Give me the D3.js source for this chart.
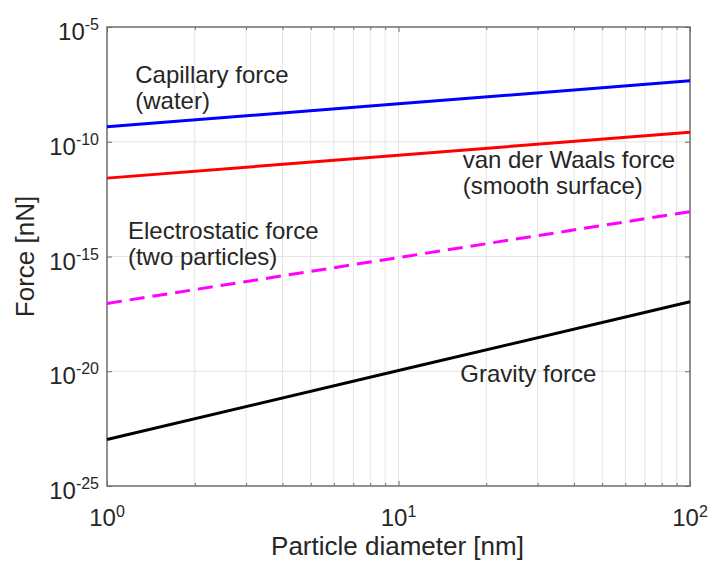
<!DOCTYPE html>
<html>
<head>
<meta charset="utf-8">
<script src="https://cdn.jsdelivr.net/npm/d3@7"></script>
<style>
  body { margin: 0; background: #fff; }
  text { font-family: "Liberation Sans", Arial, sans-serif; fill: #262626; }
</style>
</head>
<body>
<svg id="chart" width="711" height="563"></svg>
<script>
// particle diameter [nm] and forces [nN]
const diameters = [1, 10, 100];
const capillaryForce = [4.5e-10, 4.5e-9, 4.5e-8];
const vdwForce = [2.6e-12, 2.6e-11, 2.6e-10];
const electrostaticForce = [9e-18, 9e-16, 9e-14];
const gravityForce = [1.07e-23, 1.07e-20, 1.07e-17];

// axis ticks
const xTicks = [1, 10, 100];
const xTickExp = ['0', '1', '2'];
const xMinorTicks = [2, 3, 4, 5, 6, 7, 8, 9, 20, 30, 40, 50, 60, 70, 80, 90];
const yTicks = [1e-25, 1e-20, 1e-15, 1e-10, 1e-5];
const yTickExp = ['-25', '-20', '-15', '-10', '-5'];

// curve annotations (two lines each)
const capillaryLabel = ['Capillary force', '(water)'];
const vdwLabel = ['van der Waals force', '(smooth surface)'];
const electrostaticLabel = ['Electrostatic force', '(two particles)'];
const gravityLabel = ['Gravity force'];

const svg = d3.select('#chart');
const margin = { left: 107, right: 21, top: 27, bottom: 77 };
const width = 711 - margin.left - margin.right;
const height = 563 - margin.top - margin.bottom;

const x = d3.scaleLog().domain([1, 100]).range([margin.left, margin.left + width]);
const y = d3.scaleLog().domain([1e-25, 1e-5]).range([margin.top + height, margin.top]);

// grid
const grid = svg.append('g');
grid.selectAll('.vgrid')
  .data(xMinorTicks.concat(xTicks.slice(1, -1)))
  .join('line')
  .attr('x1', d => x(d)).attr('x2', d => x(d))
  .attr('y1', y(1e-25)).attr('y2', y(1e-5))
  .attr('stroke', '#e4e4e4').attr('stroke-width', 1);
grid.selectAll('.hgrid')
  .data(yTicks.slice(1, -1))
  .join('line')
  .attr('x1', x(1)).attr('x2', x(100))
  .attr('y1', d => y(d)).attr('y2', d => y(d))
  .attr('stroke', '#e4e4e4').attr('stroke-width', 1);

// axes with inward ticks
const axisColor = '#6e6e6e';
function styleAxis(g) {
  g.select('.domain').remove();
  g.selectAll('.tick line').attr('stroke', axisColor);
  g.selectAll('.tick text').remove();
}
svg.append('g').attr('transform', `translate(0,${y(1e-25)})`)
  .call(d3.axisBottom(x).tickValues(xMinorTicks).tickSize(-3)).call(styleAxis);
svg.append('g').attr('transform', `translate(0,${y(1e-25)})`)
  .call(d3.axisBottom(x).tickValues(xTicks).tickSize(-5)).call(styleAxis);
svg.append('g').attr('transform', `translate(0,${y(1e-5)})`)
  .call(d3.axisTop(x).tickValues(xMinorTicks).tickSize(-3)).call(styleAxis);
svg.append('g').attr('transform', `translate(0,${y(1e-5)})`)
  .call(d3.axisTop(x).tickValues(xTicks).tickSize(-5)).call(styleAxis);
svg.append('g').attr('transform', `translate(${x(1)},0)`)
  .call(d3.axisLeft(y).tickValues(yTicks).tickSize(-5)).call(styleAxis);
svg.append('g').attr('transform', `translate(${x(100)},0)`)
  .call(d3.axisRight(y).tickValues(yTicks).tickSize(-5)).call(styleAxis);

// box
svg.append('rect')
  .attr('x', x(1)).attr('y', y(1e-5))
  .attr('width', x(100) - x(1)).attr('height', y(1e-25) - y(1e-5))
  .attr('fill', 'none').attr('stroke', axisColor).attr('stroke-width', 1.5);

// tick labels with superscripts
const xLab = svg.append('g').selectAll('text')
  .data(xTicks)
  .join('text')
  .attr('x', d => x(d))
  .attr('y', y(1e-25) + 40)
  .attr('text-anchor', 'middle')
  .style('font-size', '24px');
xLab.append('tspan').text('10');
xLab.append('tspan').attr('dy', -9).style('font-size', '16px').text((d, i) => xTickExp[i]);

const yLab = svg.append('g').selectAll('text')
  .data(yTicks)
  .join('text')
  .attr('x', x(1) - 8)
  .attr('y', d => y(d) + 13)
  .attr('text-anchor', 'end')
  .style('font-size', '24px');
yLab.append('tspan').text('10');
yLab.append('tspan').attr('dy', -10).style('font-size', '16px').text((d, i) => yTickExp[i]);

// axis titles
svg.append('text')
  .attr('x', (x(1) + x(100)) / 2 - 1)
  .attr('y', 555)
  .attr('text-anchor', 'middle')
  .style('font-size', '26px')
  .text('Particle diameter [nm]');
svg.append('text')
  .attr('transform', `translate(34,${(y(1e-5) + y(1e-25)) / 2}) rotate(-90)`)
  .attr('text-anchor', 'middle')
  .style('font-size', '26px')
  .text('Force [nN]');

// force curves
const series = [
  { values: capillaryForce, color: '#0000ff', dash: null },
  { values: vdwForce, color: '#ff0000', dash: null },
  { values: electrostaticForce, color: '#ff00ff', dash: '15,8' },
  { values: gravityForce, color: '#000000', dash: null }
];
const line = d3.line().x(d => x(d[0])).y(d => y(d[1]));
svg.append('g').selectAll('path')
  .data(series)
  .join('path')
  .attr('fill', 'none')
  .attr('stroke', d => d.color)
  .attr('stroke-width', 3)
  .attr('stroke-dasharray', d => d.dash)
  .attr('d', d => line(diameters.map((v, i) => [v, d.values[i]])));

// annotations, anchored in data coordinates
const notes = [
  { lines: capillaryLabel, at: [1.25, Math.pow(10, -7.42)] },
  { lines: vdwLabel, at: [16.6, Math.pow(10, -11.14)] },
  { lines: electrostaticLabel, at: [1.18, Math.pow(10, -14.24)] },
  { lines: gravityLabel, at: [16.3, Math.pow(10, -20.47)] }
];
notes.forEach(n => {
  const t = svg.append('text')
    .attr('x', x(n.at[0]))
    .attr('y', y(n.at[1]))
    .style('font-size', '24px');
  t.selectAll('tspan')
    .data(n.lines)
    .join('tspan')
    .attr('x', x(n.at[0]))
    .attr('dy', (d, i) => i === 0 ? 0 : 26)
    .text(d => d);
});
</script>
</body>
</html>
